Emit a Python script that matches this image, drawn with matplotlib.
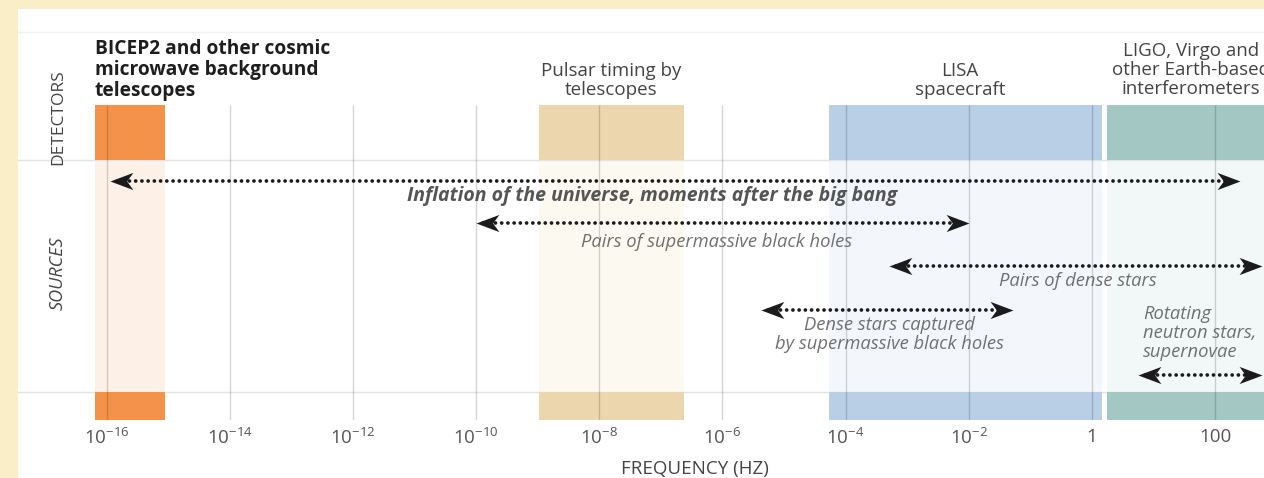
import numpy as np
import matplotlib
matplotlib.use('Agg')
import matplotlib.pyplot as plt
from matplotlib.patches import Rectangle
from matplotlib.path import Path

plt.rcParams['font.family'] = ['Open Sans', 'DejaVu Sans']
plt.rcParams['mathtext.fontset'] = 'custom'
plt.rcParams['mathtext.rm'] = 'Open Sans'

# detectors: name, low / high frequency (Hz), strong / pale colour
det_names = ['BICEP2 and other cosmic\nmicrowave background\ntelescopes',
             'Pulsar timing by\ntelescopes',
             'LISA\nspacecraft',
             'LIGO, Virgo and\nother Earth-based\ninterferometers']
det_lo = [10**-16.19, 10**-8.98, 10**-4.27, 10**0.24]
det_hi = [10**-15.05, 10**-6.62, 10**0.16, 10**3.2]
det_col = ['#f5924a', '#ecd6ae', '#b9cfe6', '#a3c7c2']
det_pale = ['#fdf0e7', '#fcf9f1', '#f3f7fb', '#f2f8f7']

# sources: label, low / high frequency (Hz), arrows at both ends
src_names = ['Inflation of the universe, moments after the big bang',
             'Pairs of supermassive black holes',
             'Pairs of dense stars',
             'Dense stars captured\nby supermassive black holes',
             'Rotating\nneutron stars,\nsupernovae']
src_lo = [10**-15.95, 1e-10, 10**-3.29, 10**-5.38, 10**0.75]
src_hi = [10**2.41, 1e-2, 10**2.76, 10**-1.28, 10**2.76]

tick_vals = [1e-16, 1e-14, 1e-12, 1e-10, 1e-8, 1e-6, 1e-4, 1e-2, 1, 100]
tick_labels = [r'$\mathregular{10^{-16}}$', r'$\mathregular{10^{-14}}$',
               r'$\mathregular{10^{-12}}$', r'$\mathregular{10^{-10}}$',
               r'$\mathregular{10^{-8}}$', r'$\mathregular{10^{-6}}$',
               r'$\mathregular{10^{-4}}$', r'$\mathregular{10^{-2}}$', '1', '100']

W, H = 1264, 478
fig = plt.figure(figsize=(W / 100, H / 100), dpi=100)
fig.patch.set_facecolor('#f9eec8')
fig.patches.append(Rectangle((18 / W, 0), 1, 1 - 9 / H, transform=fig.transFigure,
                             facecolor='white', edgecolor='none', zorder=-10))

# axes: y measured in pixels from the top of the figure
ax = fig.add_axes([18 / W, (H - 420) / H, (W - 18) / W, 411 / H])
ax.set_facecolor('none')
ax.set_xscale('log')
ax.set_xlim(10**-17.44, 10**2.796)
ax.set_ylim(420, 9)
for s in ax.spines.values():
    s.set_visible(False)
ax.set_yticks([])

# bands
for lo, hi, c, pc in zip(det_lo, det_hi, det_col, det_pale):
    ax.fill_between([lo, hi], 105, 160, color=c, lw=0, zorder=1)
    ax.fill_between([lo, hi], 160, 392, color=pc, lw=0, zorder=0.5)
    ax.fill_between([lo, hi], 392, 420, color=c, lw=0, zorder=1)

# grid
ax.vlines(tick_vals, 105, 420, color='black', alpha=0.17, lw=1, zorder=2)
for yy, c in [(32, '#f2f2f2'), (160, '#e4e4e4'), (392, '#e4e4e4')]:
    ax.axhline(yy, color=c, lw=1, zorder=0.8)

# arrows
head_r = Path([(0, 0), (-2, 0.75), (-1.45, 0), (-2, -0.75), (0, 0)],
              [Path.MOVETO, Path.LINETO, Path.LINETO, Path.LINETO, Path.CLOSEPOLY])
head_l = Path([(0, 0), (2, 0.75), (1.45, 0), (2, -0.75), (0, 0)],
              [Path.MOVETO, Path.LINETO, Path.LINETO, Path.LINETO, Path.CLOSEPOLY])
arrow_y = [181, 223, 266, 310, 375]
for lo, hi, yy in zip(src_lo, src_hi, arrow_y):
    ax.plot([lo * 1.3, hi / 1.3], [yy, yy], color='#1b1b1b', lw=2.7,
            linestyle=(0, (0.01, 1.65)), dash_capstyle='round', zorder=4)
    ax.plot([lo], [yy], marker=head_l, ms=33, color='#1b1b1b', mew=0, zorder=5)
    ax.plot([hi], [yy], marker=head_r, ms=33, color='#1b1b1b', mew=0, zorder=5)

# source labels
ax.text(10**-7.14, 196, src_names[0], ha='center', va='center', fontsize=14,
        style='italic', weight='bold', color='#555555', zorder=6)
ax.text(10**-6.09, 242, src_names[1], ha='center', va='center', fontsize=13.2,
        style='italic', color='#707070', zorder=6)
ax.text(10**-0.22, 281, src_names[2], ha='center', va='center', fontsize=13.2,
        style='italic', color='#707070', zorder=6)
ax.text(10**-3.29, 334.5, src_names[3], ha='center', va='center', fontsize=13.2,
        style='italic', color='#707070', linespacing=1.1, zorder=6)
ax.text(10**0.83, 333, src_names[4], ha='left', va='center', fontsize=13.2,
        style='italic', color='#707070', linespacing=1.1, zorder=6)

# detector labels
ax.text(det_lo[0], 70, det_names[0], ha='left', va='center', fontsize=13.8,
        weight='bold', color='#1e1e1e', linespacing=1.05)
ax.text(10**-7.81, 80.5, det_names[1], ha='center', va='center', fontsize=13.5,
        color='#444444', linespacing=1.08)
ax.text(10**-2.14, 80.5, det_names[2], ha='center', va='center', fontsize=13.5,
        color='#444444', linespacing=1.08)
ax.text(10**1.61, 70, det_names[3], ha='center', va='center', fontsize=13.5,
        color='#444444', linespacing=1.08)

fig.text(58 / W, 1 - 117 / H, 'DETECTORS', rotation=90, ha='center', va='center',
         fontsize=12.5, color='#444444')
fig.text(58 / W, 1 - 273 / H, 'SOURCES', rotation=90, ha='center', va='center',
         fontsize=13, style='italic', color='#444444')

ax.set_xticks(tick_vals)
ax.set_xticklabels(tick_labels)
ax.xaxis.set_minor_locator(matplotlib.ticker.NullLocator())
ax.tick_params(axis='x', length=0, pad=6, labelsize=13.5, labelcolor='#555555')
ax.set_xlabel('FREQUENCY (HZ)', fontsize=13.5, color='#444444')
ax.xaxis.set_label_coords((695 - 18) / (W - 18), -(460 - 420) / 411)

fig.savefig('out.png', dpi=100, facecolor=fig.get_facecolor())
